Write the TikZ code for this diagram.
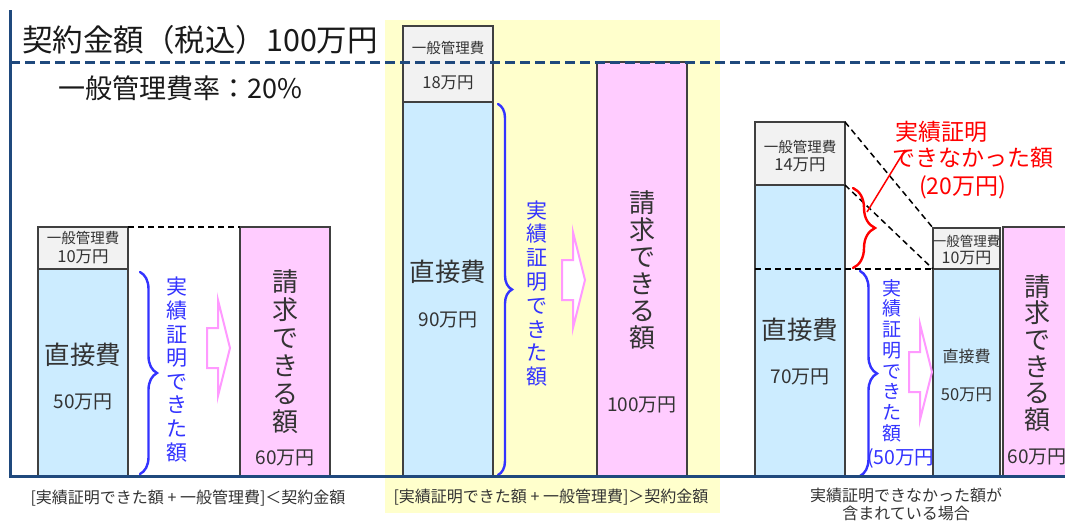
\documentclass[tikz,border=0pt]{standalone}
\usepackage{fontspec}
\setmainfont{Noto Sans CJK JP}
\usetikzlibrary{positioning,calc,decorations.pathreplacing}

\definecolor{axisblue}{HTML}{1F497D}
\definecolor{boxline}{HTML}{404040}
\definecolor{genfill}{HTML}{F2F2F2}
\definecolor{dirfill}{HTML}{CCECFF}
\definecolor{reqfill}{HTML}{FFCCFF}
\definecolor{yellowbg}{HTML}{FFFFCC}
\definecolor{bracketblue}{HTML}{3333FF}
\definecolor{arrowpink}{HTML}{FF99FF}
\definecolor{txtgray}{HTML}{333333}

\newcommand{\sz}[1]{\fontsize{#1}{#1}\selectfont}
\newcommand{\vsz}[2]{\fontsize{#1}{#2}\selectfont}
% hollow arrow, given by its tip
\newcommand{\hollowarrow}[2]{%
  \draw[claimarrow] (#1-23,#2+20) -- (#1-12,#2+20) -- (#1-12,#2+48) -- (#1,#2)
    -- (#1-12,#2-48) -- (#1-12,#2-20) -- (#1-23,#2-20) -- cycle;}

\begin{document}
\begin{tikzpicture}[x=1pt,y=1pt,
    box/.style={draw=boxline, line width=1.3pt, inner sep=0pt, outer sep=0pt, minimum width=90pt, anchor=north west},
    genbox/.style={box, fill=genfill},
    dirbox/.style={box, fill=dirfill},
    reqbox/.style={box, fill=reqfill},
    lbl/.style={text=txtgray, inner sep=0pt},
    vlbl/.style={align=center, inner sep=0pt},
    guide/.style={dash pattern=on 6pt off 4pt, line width=1.5pt},
    bracket/.style={decorate, decoration={brace, amplitude=#1}, line width=2.4pt, line cap=round},
    claimarrow/.style={draw=arrowpink, line width=2pt, fill=white},
    caption/.style={text=txtgray, inner sep=0pt}]

    \clip (0,0) rectangle (1065,-523);
    \fill[white] (0,0) rectangle (1065,-523);
    \fill[yellowbg] (385,-20) rectangle (720,-513);

    % Title
    \node[anchor=west, inner sep=0pt, text=black!90] (title) at (22,-40) {\sz{30.5}契約金額（税込）100万円};
    \node[anchor=west, inner sep=0pt, text=black!90] (rate) at (58,-88) {\sz{27}一般管理費率：20\%};

    % Case 1
    \node[genbox, minimum height=42pt] (gen1) at (38,-227) {};
    \node[dirbox, minimum height=207pt, below=0pt of gen1] (dir1) {};
    \node[reqbox, minimum height=249pt] (req1) at (240,-227) {};
    \node[lbl, font={\sz{14.5}}] (gen1a) at (83,-238) {一般管理費};
    \node[lbl, font={\sz{16.5}}] (gen1b) at (83,-257) {10万円};
    \node[lbl, font={\sz{25.5}}] (dir1a) at (83,-355) {直接費};
    \node[lbl, font={\sz{19}}] (dir1b) at (83,-402) {50万円};
    \node[vlbl, text=bracketblue, font={\vsz{21}{23.6}}] (proof1) at (177,-369.5) {実\\績\\証\\明\\で\\き\\た\\額};
    \node[vlbl, text=txtgray, font={\vsz{26}{28}}] (claim1) at (285,-352) {請\\求\\で\\き\\る\\額};
    \node[lbl, font={\sz{19}}] (claim1b) at (285,-458) {60万円};
    \draw[guide] (gen1.north east) -- (req1.north west);
    \draw[bracket=17, draw=bracketblue] ($(dir1.north east)+(12,-3)$) -- ($(dir1.south east)+(12,2)$);
    \hollowarrow{230}{-348}

    % Case 2
    \node[genbox, minimum height=76pt] (gen2) at (403,-26) {};
    \node[dirbox, minimum height=374pt, below=0pt of gen2] (dir2) {};
    \node[reqbox, minimum height=414pt] (req2) at (597,-62) {};
    \node[lbl, font={\sz{14.5}}] (gen2a) at (448,-48) {一般管理費};
    \node[lbl, font={\sz{16.5}}] (gen2b) at (448,-83) {18万円};
    \node[lbl, font={\sz{25.5}}] (dir2a) at (448,-272) {直接費};
    \node[lbl, font={\sz{19}}] (dir2b) at (448,-320) {90万円};
    \node[vlbl, text=bracketblue, font={\vsz{21}{23.8}}] (proof2) at (537,-293.5) {実\\績\\証\\明\\で\\き\\た\\額};
    \node[vlbl, text=txtgray, font={\vsz{26}{27}}] (claim2) at (642,-270) {請\\求\\で\\き\\る\\額};
    \node[lbl, font={\sz{19}}] (claim2b) at (642,-405) {100万円};
    \draw[bracket=14, draw=bracketblue] ($(dir2.north east)+(5,-2)$) -- ($(dir2.south east)+(5,1)$);
    \hollowarrow{585}{-280}

    % Case 3
    \node[genbox, minimum height=63pt] (gen3) at (755,-122) {};
    \node[dirbox, minimum height=291pt, below=0pt of gen3] (dir3) {};
    \node[text=bracketblue, anchor=west, inner sep=0pt, font={\sz{19.5}}] (proof3b) at (867,-458) {(50万円)};
    \node[genbox, minimum width=67pt, minimum height=41pt] (gen4) at (933,-228) {};
    \node[dirbox, minimum width=67pt, minimum height=207pt, below=0pt of gen4] (dir4) {};
    \node[reqbox, minimum height=249pt] (req3) at (1003,-227) {};
    \node[lbl, font={\sz{14.5}}] (gen3a) at (800,-147) {一般管理費};
    \node[lbl, font={\sz{16.5}}] (gen3b) at (800,-165) {14万円};
    \node[lbl, font={\sz{25.5}}] (dir3a) at (800,-330) {直接費};
    \node[lbl, font={\sz{19}}] (dir3b) at (800,-377) {70万円};
    \node[lbl, font={\sz{13.5}}] (gen4a) at (966.5,-241) {一般管理費};
    \node[lbl, font={\sz{16}}] (gen4b) at (966.5,-258) {10万円};
    \node[lbl, font={\sz{16}}] (dir4a) at (966.5,-356) {直接費};
    \node[lbl, font={\sz{16.5}}] (dir4b) at (966.5,-395) {50万円};
    \node[vlbl, text=bracketblue, font={\vsz{19}{20.7}}] (proof3) at (892,-360.5) {実\\績\\証\\明\\で\\き\\た\\額};
    \node[vlbl, text=txtgray, font={\vsz{26}{26.6}}] (claim3) at (1037,-353) {請\\求\\で\\き\\る\\額};
    \node[lbl, font={\sz{19}}] (claim3b) at (1037,-457) {60万円};
    \draw[guide] (gen3.north east) -- (gen4.north west);
    \draw[guide] (dir3.north east) -- (dir4.north west);
    \draw[guide] (dir3.west |- dir4.north) -- (dir4.north west);
    \draw[bracket=17, draw=bracketblue] ($(dir3.east |- dir4.north)+(15,-2)$) -- ($(dir3.south east)+(15,0)$);
    \draw[bracket=22, draw=red] ($(dir3.north east)+(8,-3)$) -- ($(dir3.east |- dir4.north)+(8,1)$);
    \hollowarrow{932}{-372}

    % not proven amount
    \node[text=red, anchor=west, inner sep=0pt, font={\sz{23}}] (lost1) at (895,-132) {実績証明};
    \node[text=red, anchor=west, inner sep=0pt, font={\sz{23}}] (lost2) at (892,-158) {できなかった額};
    \node[text=red, anchor=west, inner sep=0pt, font={\sz{23}}] (lost3) at (919,-187) {(20万円)};
    \coordinate (lostfrom) at (905,-150);
    \coordinate (lostto) at (867,-212);
    \draw[red, line width=1.5pt] (lostfrom) -- (lostto);

    % Axis lines
    \draw[axisblue, line width=3pt] (10,-10) -- (10,-476) -- (1065,-476);
    \draw[axisblue, line width=3pt, dash pattern=on 10pt off 5pt] (10,-62) -- (1065,-62);

    % Captions
    \node[caption, font={\sz{16}}] (cap1) at (188,-498) {[実績証明できた額 + 一般管理費]＜契約金額};
    \node[caption, font={\sz{16}}] (cap2) at (551,-497) {[実績証明できた額 + 一般管理費]＞契約金額};
    \node[caption, align=center, font={\vsz{16}{18}}] (cap3) at (906,-504) {実績証明できなかった額が\\含まれている場合};
\end{tikzpicture}
\end{document}
